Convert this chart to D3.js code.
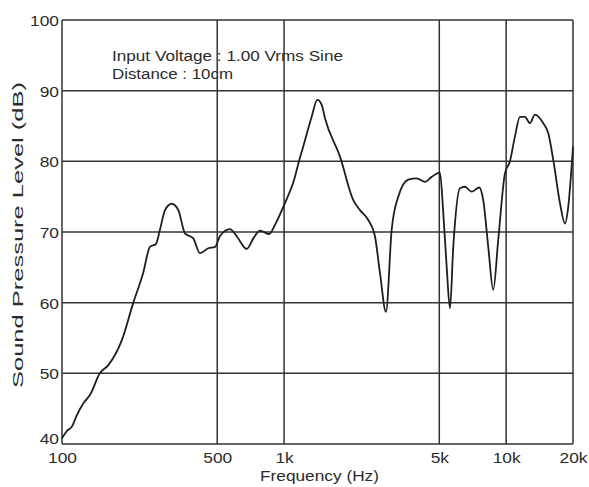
<!DOCTYPE html>
<html>
<head>
<meta charset="utf-8">
<script src="https://cdn.jsdelivr.net/npm/d3@7"></script>
<style>
  html, body { margin: 0; padding: 0; background: #fff; }
  svg { display: block; }
  text { font-family: "Liberation Sans", Arial, sans-serif; fill: #2b2b2b; }
</style>
</head>
<body>
<svg id="chart" width="589" height="487"></svg>
<script>
// Frequency response, sampled along the measured curve
const freqHz = [100, 105, 111, 116, 125, 134, 148, 162, 186, 209, 232, 249, 265, 276, 291, 312, 334, 358, 390, 418,
  456, 489, 514, 571, 612, 678, 727, 779, 858, 910, 1009, 1100, 1179, 1220, 1331, 1411, 1477, 1528, 1785, 2050,
  2197, 2394, 2566, 2703, 2876, 3051, 3268, 3625, 3954, 4309, 4619, 5034, 5210, 5397, 5585, 5779, 6194, 6524, 6993,
  7566, 7886, 8306, 8748, 9213, 9876, 10400, 10950, 11540, 12150, 12800, 13480, 14690, 15470, 16300, 17470, 18400,
  19040, 20000];
const splDb = [40.8, 41.8, 42.5, 43.9, 45.8, 47.0, 50.0, 51.2, 54.7, 59.9, 64.2, 67.9, 68.3, 70.3, 73.1, 74.0, 73.1, 69.8, 69.1, 67.0,
  67.7, 67.9, 69.4, 70.4, 69.4, 67.6, 69.1, 70.2, 69.7, 71.0, 74.1, 77.0, 80.5, 82.1, 86.3, 88.7, 88.0, 86.1, 80.7, 74.5,
  73.1, 71.7, 69.4, 64.2, 58.7, 70.3, 75.0, 77.4, 77.6, 77.1, 77.8, 78.4, 72.7, 65.1, 59.2, 67.9, 76.2, 76.4, 75.7,
  76.3, 74.5, 67.9, 61.8, 68.9, 78.3, 80.0, 83.5, 86.3, 86.3, 85.4, 86.6, 85.4, 84.0, 80.2, 74.1, 71.2,
  73.6, 82.1];

// Axis ticks
const xTickValues = [100, 500, 1000, 5000, 10000, 20000];
const xTickLabels = ["100", "500", "1k", "5k", "10k", "20k"];
const yTickValues = [40, 50, 60, 70, 80, 90, 100];

const notes = ["Input Voltage : 1.00 Vrms Sine", "Distance : 10cm"];
const xTitle = "Frequency (Hz)";
const yTitle = "Sound Pressure Level (dB)";

const W = 589, H = 487;
const margin = { top: 20, right: 16, bottom: 43, left: 62 };
const iw = W - margin.left - margin.right;
const ih = H - margin.top - margin.bottom;

const svg = d3.select("#chart");
const g = svg.append("g").attr("transform", `translate(${margin.left},${margin.top})`);

const x = d3.scaleLog().domain([100, 20000]).range([0, iw]);
const y = d3.scaleLinear().domain([40, 100]).range([ih, 0]);

const gridColor = "#333";

// Widen a text element slightly (the lettering is a broad sans)
function widen(sel, k) {
  sel.each(function () {
    const len = this.getComputedTextLength();
    d3.select(this).attr("textLength", len * k).attr("lengthAdjust", "spacingAndGlyphs");
  });
}

// Horizontal grid lines
g.append("g").selectAll("line").data(yTickValues).join("line")
  .attr("x1", 0).attr("x2", iw)
  .attr("y1", d => y(d)).attr("y2", d => y(d))
  .attr("stroke", gridColor).attr("stroke-width", 1.5);

// Vertical grid lines
g.append("g").selectAll("line").data(xTickValues).join("line")
  .attr("x1", d => x(d)).attr("x2", d => x(d))
  .attr("y1", 0).attr("y2", ih)
  .attr("stroke", gridColor).attr("stroke-width", 1.5);

// Axes (labels only; the frame comes from the grid)
const xAxis = d3.axisBottom(x).tickValues(xTickValues)
  .tickFormat((d, i) => xTickLabels[i]).tickSize(0).tickPadding(0);
const xg = g.append("g").attr("transform", `translate(0,${ih})`).call(xAxis);
xg.select(".domain").remove();
xg.selectAll("text").attr("font-size", 15.5).attr("dy", 0).attr("y", 19)
  .style("font-family", "'Liberation Sans', Arial, sans-serif").attr("fill", "#2b2b2b")
  .call(widen, 1.12);

const yAxis = d3.axisLeft(y).tickValues(yTickValues).tickSize(0).tickPadding(0);
const yg = g.append("g").call(yAxis);
yg.select(".domain").remove();
yg.selectAll("text").attr("font-size", 15.5).attr("x", -3).attr("dy", d => d === 40 ? "-0.05em" : "0.35em")
  .style("font-family", "'Liberation Sans', Arial, sans-serif").attr("fill", "#2b2b2b")
  .call(widen, 1.12);

// Response curve
const line = d3.line()
  .x((d, i) => x(freqHz[i]))
  .y(d => y(d))
  .curve(d3.curveMonotoneX);

g.append("path").datum(splDb)
  .attr("d", line)
  .attr("fill", "none")
  .attr("stroke", "#1e1e1e")
  .attr("stroke-width", 1.8)
  .attr("stroke-linejoin", "round");

// Measurement notes
g.append("g").selectAll("text").data(notes).join("text")
  .attr("x", 50).attr("y", (d, i) => 40.5 + i * 18.7)
  .attr("font-size", 15.5)
  .attr("textLength", (d, i) => i === 0 ? 231 : 121)
  .attr("lengthAdjust", "spacingAndGlyphs")
  .text(d => d);

// Axis titles
svg.append("text")
  .attr("x", 319.5).attr("y", 481)
  .attr("text-anchor", "middle")
  .attr("font-size", 14.5)
  .attr("textLength", 119)
  .attr("lengthAdjust", "spacingAndGlyphs")
  .text(xTitle);

svg.append("text")
  .attr("transform", `translate(23,${margin.top + ih / 2 + 3}) rotate(-90)`)
  .attr("text-anchor", "middle")
  .attr("font-size", 15)
  .attr("textLength", 306)
  .attr("lengthAdjust", "spacingAndGlyphs")
  .text(yTitle);
</script>
</body>
</html>
